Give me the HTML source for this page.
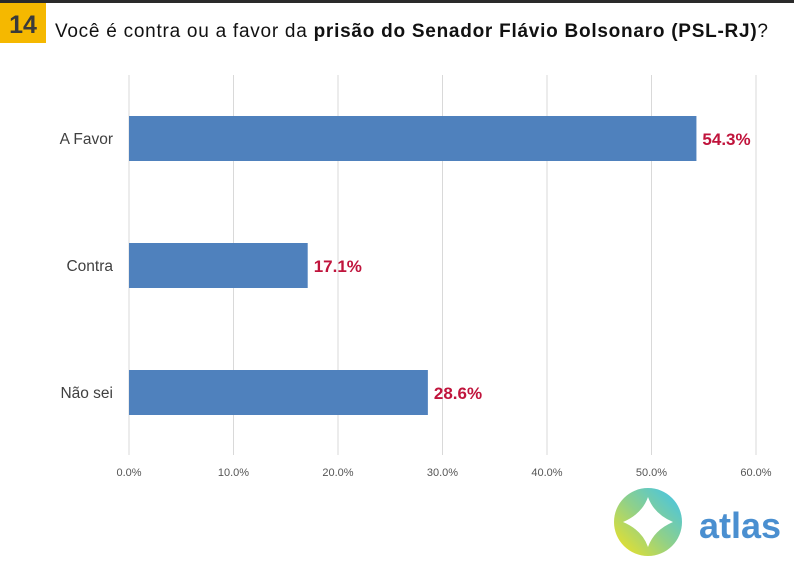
<!DOCTYPE html>
<html><head><meta charset="utf-8"><style>
body{margin:0;width:794px;height:563px;background:#fff;overflow:hidden;font-family:"Liberation Sans",sans-serif}
</style></head><body>
<svg width="794" height="563" xmlns="http://www.w3.org/2000/svg">
<defs><linearGradient id="lg" x1="0" y1="1" x2="1" y2="0"><stop offset="0" stop-color="#f7e31a"/><stop offset="0.5" stop-color="#8fd08a"/><stop offset="1" stop-color="#3cc3f0"/></linearGradient></defs>
<rect x="0" y="0" width="794" height="3" fill="#2a2a2a"/>
<rect x="0" y="3" width="46" height="40" fill="#f5b800"/>
<text x="23" y="33" text-anchor="middle" font-size="25" font-weight="bold" fill="#3a3a3a">14</text>
<text x="55" y="37" font-size="19" fill="#111" textLength="713" lengthAdjust="spacing">Você é contra ou a favor da <tspan font-weight="bold">prisão do Senador Flávio Bolsonaro (PSL-RJ)</tspan>?</text>
<g id="grid"></g><g id="bars"></g><g id="ticks"></g>
<g>
<circle cx="648" cy="522" r="34" fill="url(#lg)"/>
<path d="M648 497 Q654 514 673 522 Q654 530 648 547 Q642 530 623 522 Q642 514 648 497Z" fill="#fff"/>
<text x="699" y="538" font-size="36" font-weight="bold" fill="#4a8fd0">atlas</text>
</g>
</svg>
<script>
const categories=["A Favor","Contra","Não sei"];
const values=[54.3,17.1,28.6];
const ticks=[0,10,20,30,40,50,60];
const tickLabels=["0.0%","10.0%","20.0%","30.0%","40.0%","50.0%","60.0%"];
const NS="http://www.w3.org/2000/svg";
const x=v=>129+v*(756-129)/60;
const yc=i=>138+i*127;
function mk(t,a,p){const e=document.createElementNS(NS,t);for(const k in a)e.setAttribute(k,a[k]);p.appendChild(e);return e;}
const g=document.getElementById('grid'),b=document.getElementById('bars'),tk=document.getElementById('ticks');
ticks.forEach((v,i)=>{
 const l=mk('line',{x1:x(v),x2:x(v),y1:75,y2:455,stroke:'#d9d9d9','stroke-width':1},g);
 
 
 const t=mk('text',{x:x(v),y:476,'text-anchor':'middle','font-size':11,fill:'#555'},tk);
 t.textContent=tickLabels[i];
 
 
});
categories.forEach((c,i)=>{
 const r=mk('rect',{x:x(0),y:yc(i)-22,width:x(values[i])-x(0),height:45,fill:'#4f81bd'},b);
 
 
 const l=mk('text',{x:113,y:yc(i)+6,'text-anchor':'end','font-size':15.5,fill:'#404040'},b);
 l.textContent=c;
 
 
 const v=mk('text',{x:x(values[i])+6,y:yc(i)+7,'font-size':17,'font-weight':'bold',fill:'#c0143c'},b);
 v.textContent=values[i].toFixed(1)+'%';
 
 
});
</script>
</body></html>
